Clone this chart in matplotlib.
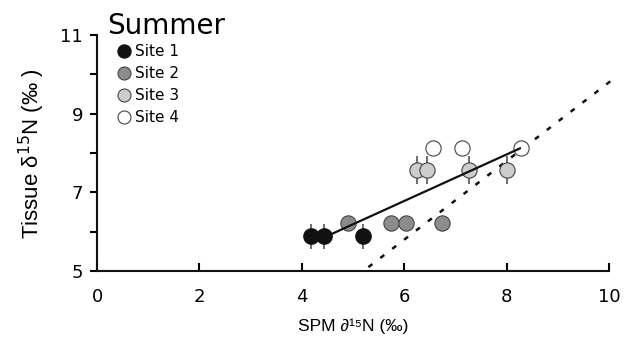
import numpy as np
import matplotlib
matplotlib.use("Agg")
import matplotlib.pyplot as plt

# data
site1_x = [4.17, 4.44, 5.20]
site1_y = [5.89, 5.89, 5.89]
site1_err = [0.32, 0.32, 0.32]

site2_x = [4.91, 5.74, 6.03, 6.74]
site2_y = [6.23, 6.23, 6.23, 6.23]

site3_x = [6.24, 6.45, 7.27, 8.00]
site3_y = [7.57, 7.57, 7.57, 7.57]
site3_err = [0.36, 0.36, 0.36, 0.36]

site4_x = [6.57, 7.12, 8.29]
site4_y = [8.13, 8.13, 8.13]

fit_x = [4.44, 8.26]
fit_y = [5.86, 8.12]

one_to_one_x = [5.3, 10.1]
one_to_one_offset = -0.2

fig = plt.figure(figsize=(6.39, 3.48), dpi=100)
ax = fig.add_axes([0.152, 0.221, 0.801, 0.678])

edge = "#444444"
ms = 11

ax.errorbar(site1_x, site1_y, yerr=site1_err, fmt="none", ecolor="#555555",
            elinewidth=1.2, capsize=0, zorder=2)
ax.errorbar(site3_x, site3_y, yerr=site3_err, fmt="none", ecolor="#555555",
            elinewidth=1.2, capsize=0, zorder=2)

ax.plot(fit_x, fit_y, color="#111111", lw=1.6, zorder=4)
dx = np.array(one_to_one_x)
ax.plot(dx, dx + one_to_one_offset, color="#111111", lw=1.8,
        linestyle=(0, (2, 4)), zorder=1, clip_on=False)

ax.plot(site1_x, site1_y, "o", ms=ms, mfc="#111111", mec="#111111", zorder=3, label="Site 1")
ax.plot(site2_x, site2_y, "o", ms=ms, mfc="#8c8c8c", mec=edge, mew=0.8, zorder=3, label="Site 2")
ax.plot(site3_x, site3_y, "o", ms=ms, mfc="#cdcdcd", mec=edge, mew=0.8, zorder=3, label="Site 3")
ax.plot(site4_x, site4_y, "o", ms=ms, mfc="white", mec=edge, mew=0.8, zorder=3, label="Site 4")

ax.set_xlim(0, 10)
ax.set_ylim(5, 11)
ax.set_xticks(np.arange(0, 11, 2))
ax.set_yticks(np.arange(5, 12, 1))
ax.set_yticklabels(["5", "", "7", "", "9", "", "11"])

for s in ["top", "right"]:
    ax.spines[s].set_visible(False)
for s in ["left", "bottom"]:
    ax.spines[s].set_linewidth(1.5)
    ax.spines[s].set_color("#111111")

ax.tick_params(axis="x", direction="in", length=6, width=1.5, labelsize=13, pad=12)
ax.tick_params(axis="y", direction="out", length=5, width=1.5, labelsize=13, pad=5)

ax.set_xlabel("SPM \u2202\u00b9\u2075N (\u2030)", family="Liberation Sans", fontsize=12.5, labelpad=9)
ax.set_ylabel("Tissue \u03b4$^{15}$N (\u2030 )", family="Liberation Sans", fontsize=16, labelpad=10)

fig.text(0.167, 0.925, "Summer", fontsize=20, va="center", ha="left")

ax.legend(loc="upper left", bbox_to_anchor=(0.02, 1.0), frameon=False, fontsize=11,
          handletextpad=0.2, labelspacing=0.45, borderaxespad=0.2, markerscale=0.85,
          handlelength=1.0)

fig.savefig("out.png", dpi=100)
